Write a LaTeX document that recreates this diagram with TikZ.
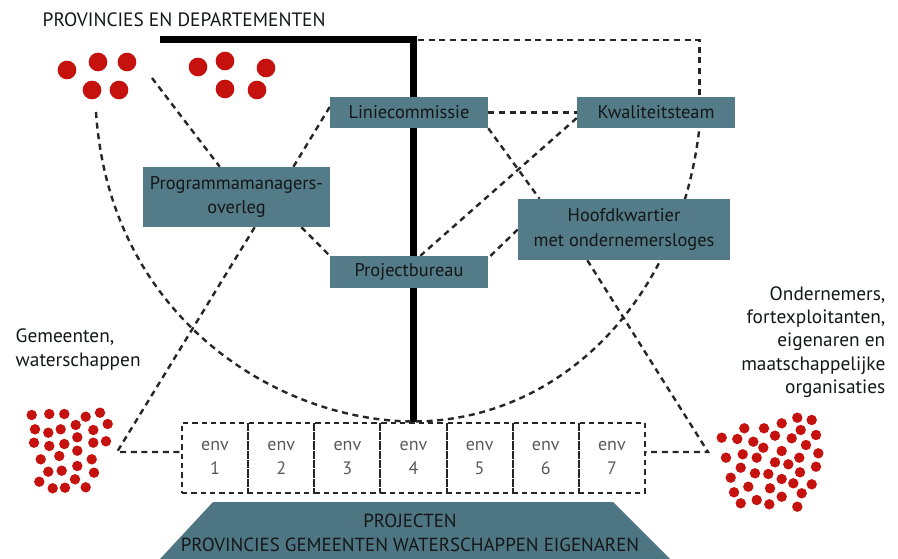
\documentclass[tikz,border=0pt]{standalone}
\usepackage{fontspec}
\setmainfont{PT Sans}
\usetikzlibrary{backgrounds}

\definecolor{boxteal}{RGB}{83,124,136}
\definecolor{baseteal}{RGB}{78,118,130}
\definecolor{dotred}{RGB}{198,18,14}
\definecolor{txtdark}{RGB}{20,22,24}

\tikzset{
  orgbox/.style={fill=boxteal, text=txtdark, align=center, inner sep=0pt,
    font=\fontsize{13.8}{18.5}\selectfont},
  envbox/.style={draw=black!85, line width=1.5pt, dash pattern=on 4pt off 3pt,
    text=black!65, align=center, inner sep=0pt,
    minimum width=49.6pt, minimum height=52.5pt, font=\fontsize{13.5}{18}\selectfont},
  link/.style={black!85, line width=1.8pt, dash pattern=on 4.5pt off 3.5pt},
  spine/.style={line width=5.25pt},
  dot/.style={fill=dotred},
  sidetext/.style={text=txtdark, font=\fontsize{14.5}{17.5}\selectfont}
}

\begin{document}
\begin{tikzpicture}[x=0.75pt, y=-0.75pt]
    \useasboundingbox (0,0) rectangle (898,559);

    % Title
    \node[sidetext, anchor=west] (title) at (38,20) {PROVINCIES EN DEPARTEMENTEN};

    % Organisation boxes
    \node[orgbox, minimum width=118.5pt, minimum height=23.25pt] (lin) at (409,112.5) {Liniecommissie};
    \node[orgbox, minimum width=118.5pt, minimum height=23.25pt] (kwal) at (656,112.5) {Kwaliteitsteam};
    \node[orgbox, minimum width=140.25pt, minimum height=45pt] (prog) at (236.5,197) {Programmamanagers-\\overleg};
    \node[orgbox, minimum width=118.5pt, minimum height=24pt] (proj) at (409,272) {Projectbureau};
    \node[orgbox, minimum width=159pt, minimum height=45.75pt] (hoofd) at (624,229.5) {Hoofdkwartier\\met ondernemersloges};

    % Environments
    \foreach \i in {1,...,7}
        \node[envbox] (env\i) at ({182+66.14*(\i-0.5)},457.5) {env\\\i};

    % Projects base
    \fill[baseteal] (213,502) -- (613,502) -- (670,559) -- (160,559) -- cycle;
    \node[text=txtdark, align=center, font=\fontsize{14.2}{18.5}\selectfont] (base) at (410,533)
        {PROJECTEN\\PROVINCIES GEMEENTEN WATERSCHAPPEN EIGENAREN};

    % Side labels
    \node[sidetext, anchor=west, align=left] (gemtxt) at (11,349.5) {Gemeenten,\\waterschappen};
    \node[sidetext, anchor=east, align=right] (ondtxt) at (890,342)
        {Ondernemers,\\fortexploitanten,\\eigenaren en\\maatschappelijke\\organisaties};

    % Dots: provinces and departments
    \foreach \x/\y in {67/70, 98/62, 127/62, 92/90, 119/90, 198/67, 225/61, 266/68, 225/89, 257/90}
        \fill[dot] (\x,\y) circle[radius=7pt];

    % Dots: gemeenten, waterschappen
    \foreach \x/\y in {31.7/415, 49.3/414, 64.3/414, 85.7/416.7, 100/412.7,
        35/429.3, 48.3/432.7, 60.7/429.3, 75.7/425, 93.3/430, 107.7/424,
        34/442.7, 49.3/446, 64.3/444, 77.3/437.3, 93.3/442.7, 106/441.3,
        40.7/459.3, 59.3/456, 77.3/450.7, 91.7/459.3,
        48.3/471.7, 61.7/470.7, 77.3/466, 94/472.7,
        39.3/481.7, 52.7/488.3, 65/487.7, 75/479.3, 85.7/487.3}
        \fill[dot] (\x,\y) circle[radius=3.9pt];

    % Dots: ondernemers
    \foreach \x/\y in {797.3/417.7, 811.7/420, 781.7/423.3, 764/428.3, 744.3/428.3,
        800.7/430, 816/435, 721.7/437.7, 737.3/439, 753.3/441.7, 775/435.7,
        791.7/438.3, 806/445, 763.3/447.7, 781.7/451, 818.3/453.3, 726/457.7,
        742.7/454.3, 756.7/457.7, 799.3/457.7, 775/462.3, 788.3/464.3, 816/466.7,
        740.7/467.7, 755/473.3, 768.3/474, 800/472.3, 730.7/477.7, 781.7/479,
        793.3/483.3, 811.7/484.3, 748.3/486.7, 770/488.3, 734/492.3, 801.7/493.3,
        781.7/496.7, 756.7/500, 769.3/504.3, 740.7/503.3, 797.3/506.7}
        \fill[dot] (\x,\y) circle[radius=3.9pt];

    % Connector ends
    \coordinate (provR) at (152,78);
    \coordinate (provB) at (96,112);
    \coordinate (topR) at (418,40);
    \coordinate (gem) at (117,452);
    \coordinate (ond) at (708,452);

    \begin{pgfonlayer}{background}
        % Spine
        \draw[spine] (160,40) -| (env4.north);

        % Links
        \draw[link] (topR) -| (kwal.20.7);
        \draw[link] (provR) -- (prog.119);
        \draw[link] (prog.28) -- (lin.176);
        \draw[link] (lin.east) -- (kwal.west);
        \draw[link] (lin.south east) -- (hoofd.160);
        \draw[link] (kwal.184) -- (proj.55);
        \draw[link] (hoofd.west) -- (proj.10);
        \draw[link] (prog.-25) -- (proj.north west);
        \draw[link] (prog.-59) -- (gem) -- (gem -| env1.west);
        \draw[link] (hoofd.-140) -- (ond) -- (ond -| env7.east);

        % Big arc
        \draw[link] (provB) .. controls (110,320) and (280,421) .. (env4.north)
            .. controls (560,421) and (680,300) .. (kwal.-20.7);
    \end{pgfonlayer}
\end{tikzpicture}
\end{document}
